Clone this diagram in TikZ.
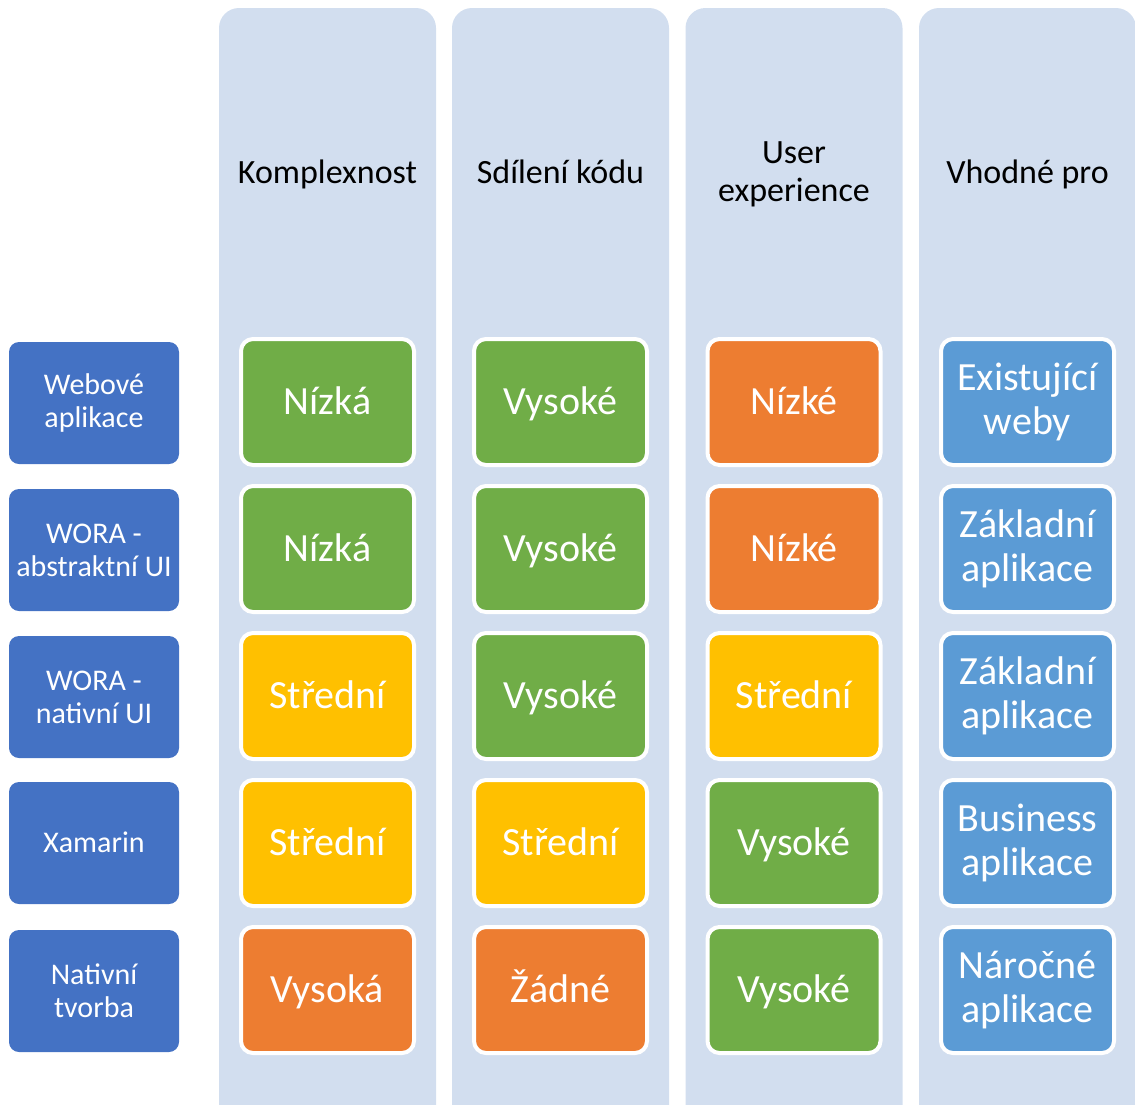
\documentclass[tikz,border=0pt]{standalone}
\usepackage{fontspec}
\setmainfont{Carlito}
\definecolor{colbg}{HTML}{D2DEEF}
\definecolor{rowblue}{HTML}{4472C4}
\definecolor{cgreen}{HTML}{70AD47}
\definecolor{corange}{HTML}{ED7D31}
\definecolor{cyellow}{HTML}{FFC000}
\definecolor{cblue}{HTML}{5B9BD5}
\tikzset{
  colpanel/.style={fill=colbg, draw=none, rounded corners=20pt},
  header/.style={align=center, text=black, font=\fontsize{34}{38}\selectfont, inner sep=0pt},
  % single-line text: box spans the capital height, so capitals sit centred
  capline/.style={text height=#1, text depth=0pt},
  rowlabel/.style={rectangle, rounded corners=10pt, fill=rowblue, text=white,
    minimum width=170pt, minimum height=122pt, inner sep=0pt, align=center,
    font=\fontsize{30}{33}\selectfont},
  cell/.style={rectangle, rounded corners=12pt, draw=white, line width=4pt,
    minimum width=173pt, minimum height=126pt, inner sep=0pt, align=center,
    text=white, font=\fontsize{40}{44}\selectfont},
  good/.style={cell, fill=cgreen, capline=25.8pt},
  bad/.style={cell, fill=corange, capline=25.8pt},
  mid/.style={cell, fill=cyellow, capline=25.8pt},
  usecase/.style={cell, fill=cblue},
}
\begin{document}
\begin{tikzpicture}[x=1pt, y=-1pt]
  \useasboundingbox (0,0) rectangle (1135,1104);
  \clip (0,0) rectangle (1135,1104);

  % column panels
  \foreach \cx in {327.5, 560.5, 794, 1027.5} {
    \path[colpanel] (\cx-108.5, 8) rectangle (\cx+108.5, 1125);
  }

  % column headers
  \node[header, capline=21.9pt] (h1) at (327.5,173) {Komplexnost};
  \node[header, capline=21.9pt] (h2) at (560.5,173) {Sdílení kódu};
  \node[header] (h3) at (794,174) {User\\experience};
  \node[header, capline=21.9pt] (h4) at (1027.5,173) {Vhodné pro};

  % row labels
  \node[rowlabel] (r1) at (94,403) {Webové\\aplikace};
  \node[rowlabel] (r2) at (94,550) {WORA -\\abstraktní UI};
  \node[rowlabel] (r3) at (94,697) {WORA -\\nativní UI};
  \node[rowlabel, capline=19.3pt] (r4) at (94,843) {Xamarin};
  \node[rowlabel] (r5) at (94,991) {Nativní\\tvorba};

  % row 1
  \node[good] (a1) at (327.5,402) {Nízká};
  \node[good] (b1) at (560.5,402) {Vysoké};
  \node[bad]  (c1) at (794,402) {Nízké};
  \node[usecase] (d1) at (1027.5,402) {Existující\\weby};
  % row 2
  \node[good] (a2) at (327.5,549) {Nízká};
  \node[good] (b2) at (560.5,549) {Vysoké};
  \node[bad]  (c2) at (794,549) {Nízké};
  \node[usecase] (d2) at (1027.5,549) {Základní\\aplikace};
  % row 3
  \node[mid]  (a3) at (327.5,696) {Střední};
  \node[good] (b3) at (560.5,696) {Vysoké};
  \node[mid]  (c3) at (794,696) {Střední};
  \node[usecase] (d3) at (1027.5,696) {Základní\\aplikace};
  % row 4
  \node[mid]  (a4) at (327.5,843) {Střední};
  \node[mid]  (b4) at (560.5,843) {Střední};
  \node[good] (c4) at (794,843) {Vysoké};
  \node[usecase] (d4) at (1027.5,843) {Business\\aplikace};
  % row 5
  \node[bad]  (a5) at (327.5,990) {Vysoká};
  \node[bad]  (b5) at (560.5,990) {Žádné};
  \node[good] (c5) at (794,990) {Vysoké};
  \node[usecase] (d5) at (1027.5,990) {Náročné\\aplikace};
\end{tikzpicture}
\end{document}
